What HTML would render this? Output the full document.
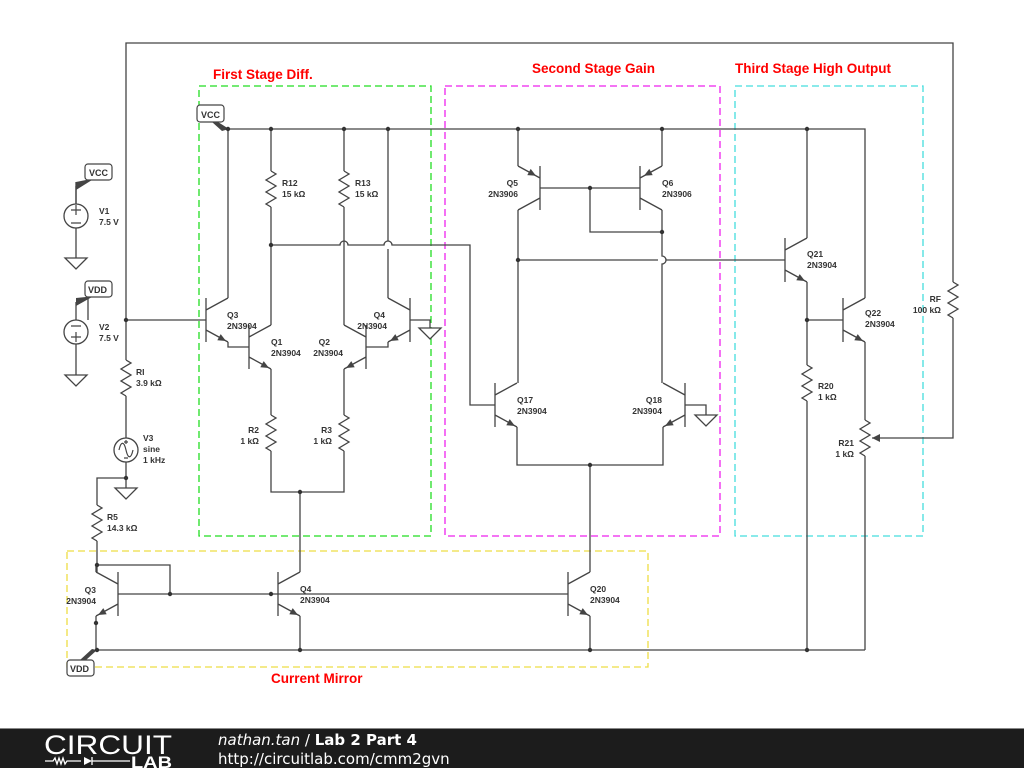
<!DOCTYPE html>
<html><head><meta charset="utf-8"><style>
body{margin:0;width:1024px;height:768px;overflow:hidden;background:#fff}
svg{display:block}
text{font-family:"Liberation Sans",sans-serif}
.l{font-size:8.5px;font-weight:bold;fill:#333}
.t{font-size:13.5px;font-weight:bold;fill:#f00}
</style></head><body>
<svg width="1024" height="768" viewBox="0 0 1024 768">
<defs>
<path id="rz" d="M0,0 l5,3 l-10,6 l10,6 l-10,6 l10,6 l-10,6 l5,3" fill="none" stroke="#444" stroke-width="1.3"/>
<g id="npn" stroke="#444" stroke-width="1.3" fill="none">
<path d="M0,-22V22M0,-10L22,-22M0,10L22,22"/>
<polygon points="20,21 11.3,20.3 14.7,14.1" fill="#444" stroke="none"/>
</g>
<g id="pnp" stroke="#444" stroke-width="1.3" fill="none">
<path d="M0,-22V22M0,-10L22,-22M0,10L22,22"/>
<polygon points="4,-12.2 12.7,-12.9 9.3,-19.1" fill="#444" stroke="none"/>
</g>
<path id="gnd" d="M-11,0H11L0,11Z" fill="#fff" stroke="#444" stroke-width="1.3"/>
</defs>

<g fill="none" stroke-width="1.3" stroke-dasharray="7,4">
<rect x="199" y="86" width="232" height="450" stroke="#22dd22"/>
<rect x="445" y="86" width="275" height="450" stroke="#ee22ee"/>
<rect x="735" y="86" width="188" height="450" stroke="#44dddd"/>
<rect x="67" y="551" width="581" height="116" stroke="#eedd44"/>
</g>
<text class="t" x="213" y="79">First Stage Diff.</text>
<text class="t" x="532" y="73">Second Stage Gain</text>
<text class="t" x="735" y="73">Third Stage High Output</text>
<text class="t" x="271" y="683">Current Mirror</text>

<g stroke="#444" stroke-width="1.3" fill="none">
<path d="M126,320V43H953V282M953,318V438H872"/>
<path d="M126,320H206M126,320V360M126,396V438M126,462V478H97V505M97,541V572"/>
<path d="M228,129H865V298M228,129V298M271,129V171M271,207V325M344,129V171M344,207V325M388,129V241M388,249V298"/>
<path d="M271,245H340a4,4 0 0 1 8,0H384a4,4 0 0 1 8,0H470V405H495"/>
<path d="M228,342V347H249M388,342V347H366M410,320H430V328"/>
<path d="M271,369V415M271,451V492H344V451M344,415V369M300,492V572"/>
<path d="M518,129V166M662,129V166M540,188H640M590,188V232H662M518,210V383M662,210V232V256a4,4 0 0 1 0,8V383"/>
<path d="M518,260H658M666,260H785"/>
<path d="M517,427V465H663V427M590,465V572M685,405H706V415"/>
<path d="M807,129V238M807,282V365M807,401V650M807,320H843M865,342V420M865,456V650"/>
<path d="M96,572V565H170V594M118,594H568M96,616V650H865M300,616V650M590,616V650"/>
<path d="M76,182V204M76,228V258M88,298V320M76,344V375"/>
</g>
<polygon points="872,438 880,434 880,442" fill="#444"/>

<use href="#rz" x="271" y="171"/><use href="#rz" x="344" y="171"/>
<use href="#rz" x="271" y="415"/><use href="#rz" x="344" y="415"/>
<use href="#rz" x="126" y="360"/><use href="#rz" x="97" y="505"/>
<use href="#rz" x="807" y="365"/><use href="#rz" x="865" y="420"/>
<use href="#rz" x="953" y="282"/>

<use href="#npn" transform="translate(206,320)"/>
<use href="#npn" transform="translate(249,347)"/>
<use href="#npn" transform="translate(366,347) scale(-1,1)"/>
<use href="#npn" transform="translate(410,320) scale(-1,1)"/>
<use href="#pnp" transform="translate(540,188) scale(-1,1)"/>
<use href="#pnp" transform="translate(640,188)"/>
<use href="#npn" transform="translate(495,405)"/>
<use href="#npn" transform="translate(685,405) scale(-1,1)"/>
<use href="#npn" transform="translate(785,260)"/>
<use href="#npn" transform="translate(843,320)"/>
<use href="#npn" transform="translate(118,594) scale(-1,1)"/>
<use href="#npn" transform="translate(278,594)"/>
<use href="#npn" transform="translate(568,594)"/>

<use href="#gnd" x="76" y="258"/><use href="#gnd" x="76" y="375"/>
<use href="#gnd" x="126" y="488"/><use href="#gnd" x="430" y="328"/>
<use href="#gnd" x="706" y="415"/>
<path d="M126,478V488" stroke="#444" stroke-width="1.3"/>

<g stroke="#444" stroke-width="1.3" fill="#fff">
<circle cx="76" cy="216" r="12"/><circle cx="76" cy="332" r="12"/><circle cx="126" cy="450" r="12"/>
</g>
<g stroke="#444" stroke-width="1.2" fill="none">
<path d="M71,210h10M76,205v10M71,223h10"/>
<path d="M71,326h10M71,337h10M76,332v10"/>
<path d="M119,450c2,-9 5,-9 7,0s5,9 7,0M124,442h4M126,440v4M124,458h4"/>
</g>

<g stroke="#444" stroke-width="1.2">
<rect x="85" y="164" width="27" height="16" rx="3" fill="#fff"/>
<rect x="85" y="281" width="27" height="16" rx="3" fill="#fff"/>
<rect x="197" y="105" width="27" height="17" rx="3" fill="#fff"/>
<rect x="67" y="660" width="27" height="16" rx="3" fill="#fff"/>
</g>
<g fill="#444">
<polygon points="76,182 76,190 92,180 86,180"/>
<polygon points="76,298 76,306 92,297 86,297"/>
<polygon points="212,122 218,122 229,129 222,131"/>
<polygon points="80,660 86,660 97,650 92,649"/>
</g>
<path d="M76,186V204" stroke="#444" stroke-width="1.3"/>
<path d="M76,302V320" stroke="#444" stroke-width="1.3"/>
<g style="font-size:9px;font-weight:bold;fill:#333">
<text x="89" y="176">VCC</text><text x="88" y="293">VDD</text>
<text x="201" y="118">VCC</text><text x="70" y="672">VDD</text>
</g>

<g fill="#333">
<circle cx="228" cy="129" r="2.2"/><circle cx="271" cy="129" r="2.2"/><circle cx="344" cy="129" r="2.2"/><circle cx="388" cy="129" r="2.2"/>
<circle cx="518" cy="129" r="2.2"/><circle cx="662" cy="129" r="2.2"/><circle cx="807" cy="129" r="2.2"/>
<circle cx="271" cy="245" r="2.2"/><circle cx="126" cy="320" r="2.2"/><circle cx="126" cy="478" r="2.2"/>
<circle cx="300" cy="492" r="2.2"/><circle cx="590" cy="188" r="2.2"/><circle cx="662" cy="232" r="2.2"/>
<circle cx="518" cy="260" r="2.2"/><circle cx="590" cy="465" r="2.2"/><circle cx="807" cy="320" r="2.2"/>
<circle cx="97" cy="565" r="2.2"/><circle cx="170" cy="594" r="2.2"/><circle cx="271" cy="594" r="2.2"/>
<circle cx="96" cy="623" r="2.2"/><circle cx="97" cy="650" r="2.2"/><circle cx="300" cy="650" r="2.2"/>
<circle cx="590" cy="650" r="2.2"/><circle cx="807" cy="650" r="2.2"/>
</g>

<g class="l">
<text x="99" y="214">V1</text><text x="99" y="225">7.5 V</text>
<text x="99" y="330">V2</text><text x="99" y="341">7.5 V</text>
<text x="136" y="375">RI</text><text x="136" y="386">3.9 kΩ</text>
<text x="143" y="441">V3</text><text x="143" y="452">sine</text><text x="143" y="463">1 kHz</text>
<text x="107" y="520">R5</text><text x="107" y="531">14.3 kΩ</text>
<text x="282" y="186">R12</text><text x="282" y="197">15 kΩ</text>
<text x="355" y="186">R13</text><text x="355" y="197">15 kΩ</text>
<text x="227" y="318">Q3</text><text x="227" y="329">2N3904</text>
<text x="271" y="345">Q1</text><text x="271" y="356">2N3904</text>
<text x="330" y="345" text-anchor="end">Q2</text><text x="343" y="356" text-anchor="end">2N3904</text>
<text x="385" y="318" text-anchor="end">Q4</text><text x="387" y="329" text-anchor="end">2N3904</text>
<text x="259" y="433" text-anchor="end">R2</text><text x="259" y="444" text-anchor="end">1 kΩ</text>
<text x="332" y="433" text-anchor="end">R3</text><text x="332" y="444" text-anchor="end">1 kΩ</text>
<text x="518" y="186" text-anchor="end">Q5</text><text x="518" y="197" text-anchor="end">2N3906</text>
<text x="662" y="186">Q6</text><text x="662" y="197">2N3906</text>
<text x="517" y="403">Q17</text><text x="517" y="414">2N3904</text>
<text x="662" y="403" text-anchor="end">Q18</text><text x="662" y="414" text-anchor="end">2N3904</text>
<text x="807" y="257">Q21</text><text x="807" y="268">2N3904</text>
<text x="865" y="316">Q22</text><text x="865" y="327">2N3904</text>
<text x="818" y="389">R20</text><text x="818" y="400">1 kΩ</text>
<text x="854" y="446" text-anchor="end">R21</text><text x="854" y="457" text-anchor="end">1 kΩ</text>
<text x="941" y="302" text-anchor="end">RF</text><text x="941" y="313" text-anchor="end">100 kΩ</text>
<text x="96" y="593" text-anchor="end">Q3</text><text x="96" y="604" text-anchor="end">2N3904</text>
<text x="300" y="592">Q4</text><text x="300" y="603">2N3904</text>
<text x="590" y="592">Q20</text><text x="590" y="603">2N3904</text>
</g>

<rect x="0" y="729" width="1024" height="39" fill="#1c1c1c"/>
<rect x="0" y="728" width="1024" height="1" fill="#888"/>
<text x="44" y="754" textLength="128" lengthAdjust="spacingAndGlyphs" style="font-size:27px;fill:#fff;font-weight:normal">CIRCUIT</text>
<path d="M45,761h8l2,-3 2,6 2,-6 2,6 2,-6 2,6 2,-3h14M92,757v8M92,761h38" stroke="#fff" stroke-width="1.3" fill="none"/>
<polygon points="84,757 84,765 92,761" fill="#fff"/>
<text x="131" y="768" textLength="41" lengthAdjust="spacingAndGlyphs" style="font-size:17px;font-weight:bold;fill:#fff">LAB</text>
<text x="218" y="745" style="font-size:15px;fill:#fff"><tspan font-style="italic" font-family="DejaVu Sans">nathan.tan</tspan><tspan font-family="DejaVu Sans"> / </tspan><tspan font-weight="bold" font-family="DejaVu Sans">Lab 2 Part 4</tspan></text>
<text x="218" y="764" style="font-size:15px;fill:#fff;font-family:'DejaVu Sans',sans-serif">http://circuitlab.com/cmm2gvn</text>
</svg>
</body></html>
